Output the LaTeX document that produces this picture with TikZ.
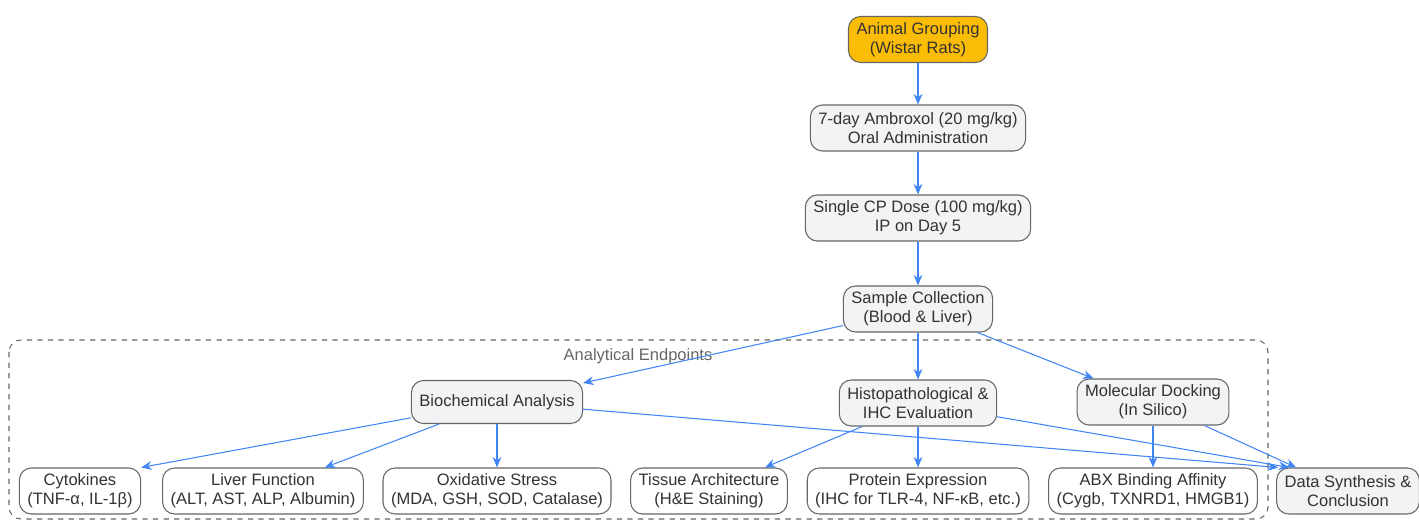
\documentclass[tikz,border=0pt]{standalone}
\usepackage{fontspec}
\setmainfont{Liberation Sans}
\usepackage{tikz}
\usetikzlibrary{arrows.meta}
\definecolor{stepfill}{HTML}{F1F3F4}
\definecolor{startfill}{HTML}{FBBC05}
\definecolor{edgeblue}{HTML}{4285F4}
\definecolor{boxline}{HTML}{666666}
\definecolor{textgray}{HTML}{333333}

\begin{document}
\begin{tikzpicture}[x=0.02cm,y=-0.02cm,
    box/.style={draw=boxline,line width=0.6pt,rounded corners=0.24cm,align=center,
      text=textgray,font=\fontsize{9.4}{10.8}\selectfont,
      inner xsep=0.16cm,inner ysep=0.1cm,minimum height=0.92cm},
    stepbox/.style={box,fill=stepfill},
    leafbox/.style={box,fill=white},
    flow/.style={draw=edgeblue,line width=0.6pt,-{Stealth[length=6pt,width=5pt]}}]
  \useasboundingbox (0,0) rectangle (1419,520);

  % Draw group frame (Analytical Endpoints)
  \draw[boxline,dashed,line width=0.6pt,rounded corners=0.24cm] (9,340) rectangle (1268,519);
  \node[text=boxline,font=\fontsize{9.4}{10.8}\selectfont] (grouplabel) at (638,356) {Analytical Endpoints};

  % Draw main sequence
  \node[box,fill=startfill] (animals) at (918,39.5) {Animal Grouping\\(Wistar Rats)};
  \node[stepbox] (ambroxol) at (918,128) {7-day Ambroxol (20 mg/kg)\\Oral Administration};
  \node[stepbox] (cpdose) at (918,218) {Single CP Dose (100 mg/kg)\\IP on Day 5};
  \node[stepbox] (sampling) at (918,309) {Sample Collection\\(Blood \& Liver)};

  % Draw analysis branches
  \node[stepbox,minimum height=0.86cm] (biochem) at (497,402) {Biochemical Analysis};
  \node[stepbox] (histo) at (918,403) {Histopathological \&\\IHC Evaluation};
  \node[stepbox] (docking) at (1153,402) {Molecular Docking\\(In Silico)};

  % Draw endpoints
  \node[leafbox] (cytokines) at (80,491) {Cytokines\\(TNF-α, IL-1β)};
  \node[leafbox] (liver) at (263,491) {Liver Function\\(ALT, AST, ALP, Albumin)};
  \node[leafbox] (oxstress) at (497,491) {Oxidative Stress\\(MDA, GSH, SOD, Catalase)};
  \node[leafbox] (tissue) at (709,491) {Tissue Architecture\\(H\&E Staining)};
  \node[leafbox] (protein) at (918,491) {Protein Expression\\(IHC for TLR-4, NF-κB, etc.)};
  \node[leafbox] (binding) at (1153,491) {ABX Binding Affinity\\(Cygb, TXNRD1, HMGB1)};
  \node[stepbox] (synthesis) at (1348,491) {Data Synthesis \&\\Conclusion};

  % Draw connectors
  \draw[flow] (animals) -- (ambroxol);
  \draw[flow] (ambroxol) -- (cpdose);
  \draw[flow] (cpdose) -- (sampling);
  \draw[flow] (sampling) -- (biochem);
  \draw[flow] (sampling) -- (histo);
  \draw[flow] (sampling) -- (docking);
  \draw[flow] (biochem) -- (cytokines.north east);
  \draw[flow] (biochem) -- (liver);
  \draw[flow] (biochem) -- (oxstress);
  \draw[flow] (biochem) -- ([xshift=0.04cm]synthesis.north west);
  \draw[flow] (histo) -- (tissue);
  \draw[flow] (histo) -- (protein);
  \draw[flow] (histo) -- ([xshift=0.26cm]synthesis.north west);
  \draw[flow] (docking) -- (binding);
  \draw[flow] (docking) -- ([xshift=0.4cm]synthesis.north west);
\end{tikzpicture}
\end{document}
